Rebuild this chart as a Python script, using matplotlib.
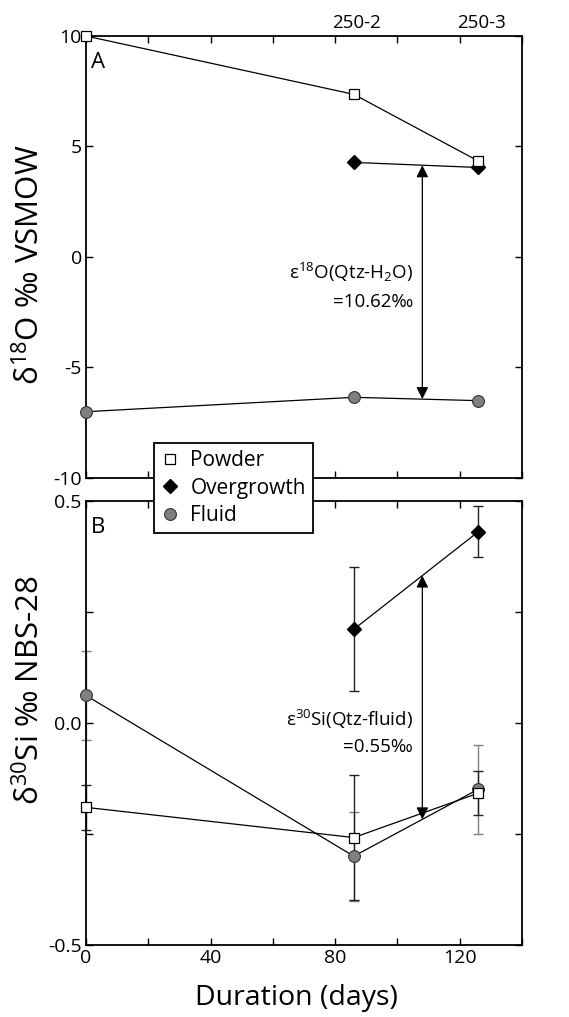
import matplotlib
matplotlib.use("Agg")
import matplotlib.pyplot as plt
from matplotlib.ticker import MultipleLocator, FormatStrFormatter
from matplotlib.lines import Line2D

plt.rcParams['font.family'] = ['Open Sans', 'DejaVu Sans']
plt.rcParams['mathtext.fontset'] = 'custom'
plt.rcParams['mathtext.rm'] = 'Open Sans'
plt.rcParams['mathtext.it'] = 'Open Sans:italic'
plt.rcParams['mathtext.bf'] = 'Open Sans:bold'
plt.rcParams['axes.unicode_minus'] = False

# ---- data ----
days = [0, 86, 126]
days_og = [86, 126]

# panel A: d18O
o_powder = [10.0, 7.36, 4.34]
o_overgrowth = [4.28, 4.05]
o_fluid = [-7.0, -6.35, -6.5]
o_arrow_x = 108
o_arrow = [4.15, -6.43]

# panel B: d30Si
si_powder = [-0.19, -0.258, -0.158]
si_powder_err = [0.05, 0.14, 0.05]
si_overgrowth = [0.211, 0.431]
si_overgrowth_err = [0.14, 0.058]
si_fluid = [0.062, -0.30, -0.149]
si_fluid_err = [0.10, 0.10, 0.10]
si_arrow_x = 108
si_arrow = [0.332, -0.217]

run_labels = ['250-2', '250-3']
run_days = [87, 127]

fig = plt.figure(figsize=(5.69, 10.17), dpi=100)
axA = fig.add_axes([0.1511, 0.5300, 0.7663, 0.4346])
axB = fig.add_axes([0.1511, 0.0708, 0.7663, 0.4366])

lw = 0.9
sq = dict(marker='s', ms=7, mfc='white', mec='black', mew=0.9)
dm = dict(marker='D', ms=7, mfc='black', mec='black')
ci = dict(marker='o', ms=8.5, mfc='#808080', mec='#333333', mew=0.8)
grey = '#808080'

# ---- panel A ----
axA.plot(days, o_powder, color='black', lw=lw, clip_on=False, zorder=3, **sq)
axA.plot(days_og, o_overgrowth, color='black', lw=lw, clip_on=False, zorder=2, **dm)
axA.plot(days, o_fluid, color='black', lw=lw, clip_on=False, zorder=3, **ci)
axA.annotate('', xy=(o_arrow_x, o_arrow[0]), xytext=(o_arrow_x, o_arrow[1]),
             arrowprops=dict(arrowstyle='<|-|>', color='black', lw=0.9,
                             mutation_scale=18, shrinkA=0, shrinkB=0))
axA.text(105, -0.70, 'ε$^{18}$O(Qtz-H$_2$O)', ha='right', va='center', fontsize=13.5)
axA.text(105, -2.05, '=10.62‰', ha='right', va='center', fontsize=13.5)
axA.text(0.011, 0.94, 'A', transform=axA.transAxes, ha='left', va='center', fontsize=16)
for lab, d in zip(run_labels, run_days):
    axA.text(d, 1.01, lab, transform=axA.get_xaxis_transform(),
             ha='center', va='bottom', fontsize=13.5)

axA.set_xlim(0, 140)
axA.set_ylim(-10, 10)
axA.xaxis.set_major_locator(MultipleLocator(40))
axA.xaxis.set_minor_locator(MultipleLocator(20))
axA.yaxis.set_major_locator(MultipleLocator(5))
axA.tick_params(labelbottom=False)
axA.text(-0.128, 0.482, 'δ$^{18}$O ‰ VSMOW', transform=axA.transAxes,
         rotation=90, ha='center', va='center', fontsize=22.5)

# ---- panel B ----
axB.errorbar(days, si_fluid, yerr=si_fluid_err, fmt='none', ecolor=grey,
             elinewidth=1.0, capsize=3.5, capthick=1.0, clip_on=False, zorder=2)
axB.errorbar(days, si_powder, yerr=si_powder_err, fmt='none', ecolor='#222222',
             elinewidth=1.0, capsize=3.5, capthick=1.0, clip_on=False, zorder=2)
axB.errorbar(days_og, si_overgrowth, yerr=si_overgrowth_err, fmt='none', ecolor='#222222',
             elinewidth=1.0, capsize=3.5, capthick=1.0, clip_on=False, zorder=2)
axB.plot(days, si_fluid, color='black', lw=lw, clip_on=False, zorder=3, **ci)
axB.plot(days, si_powder, color='black', lw=lw, clip_on=False, zorder=4, **sq)
axB.plot(days_og, si_overgrowth, color='black', lw=lw, clip_on=False, zorder=3, **dm)
axB.annotate('', xy=(si_arrow_x, si_arrow[0]), xytext=(si_arrow_x, si_arrow[1]),
             arrowprops=dict(arrowstyle='<|-|>', color='black', lw=0.9,
                             mutation_scale=18, shrinkA=0, shrinkB=0))
axB.text(105, 0.007, 'ε$^{30}$Si(Qtz-fluid)', ha='right', va='center', fontsize=13.5)
axB.text(105, -0.055, '=0.55‰', ha='right', va='center', fontsize=13.5)
axB.text(0.011, 0.94, 'B', transform=axB.transAxes, ha='left', va='center', fontsize=16)

axB.set_xlim(0, 140)
axB.set_ylim(-0.5, 0.5)
axB.xaxis.set_major_locator(MultipleLocator(40))
axB.xaxis.set_minor_locator(MultipleLocator(20))
axB.yaxis.set_major_locator(MultipleLocator(0.5))
axB.yaxis.set_minor_locator(MultipleLocator(0.25))
axB.yaxis.set_major_formatter(FormatStrFormatter('%.1f'))
axB.set_xlabel('Duration (days)', fontsize=20.5)
axB.xaxis.set_label_coords(0.482, -0.088, transform=axB.transAxes)
axB.xaxis.label.set_va('top')
axB.text(-0.128, 0.574, 'δ$^{30}$Si ‰ NBS-28', transform=axB.transAxes,
         rotation=90, ha='center', va='center', fontsize=22.5)

for ax in (axA, axB):
    for s in ax.spines.values():
        s.set_linewidth(1.3)
    ax.tick_params(which='both', direction='in', top=True, right=True,
                   length=5, width=1.0, labelsize=14, pad=3)

handles = [Line2D([], [], ls='none', **sq),
           Line2D([], [], ls='none', **dm),
           Line2D([], [], ls='none', **ci)]
leg = fig.legend(handles, ['Powder', 'Overgrowth', 'Fluid'], loc='upper left',
                 bbox_to_anchor=(154 / 569, 1 - 443 / 1017), fontsize=15,
                 frameon=True, fancybox=False, framealpha=1, edgecolor='black',
                 handlelength=0.8, handletextpad=0.6, borderpad=0.35,
                 labelspacing=0.3, borderaxespad=0)
leg.get_frame().set_linewidth(1.3)

fig.savefig('out.png', dpi=100)
